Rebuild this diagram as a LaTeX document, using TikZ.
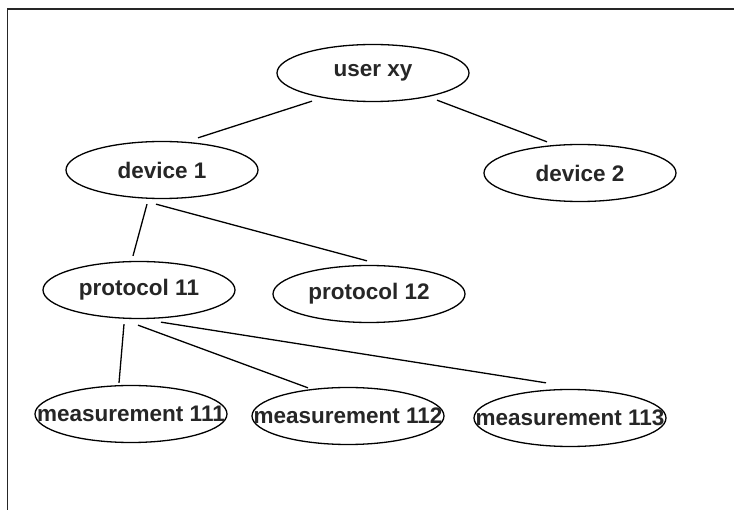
\documentclass[tikz,border=0pt]{standalone}
\usepackage{fontspec}
\setmainfont{Liberation Sans}
\usetikzlibrary{shapes.geometric,calc}
\newcommand{\ovaltext}[1]{\makebox[0pt]{#1}}
\tikzset{
  oval/.style={draw=black, line width=1.3pt, ellipse, minimum width=192pt, minimum height=57pt, inner sep=0pt,
    font=\fontsize{22.5}{25}\selectfont\bfseries, text=black!85},
  link/.style={draw=black, line width=1.3pt},
  frame/.style={draw=black!85, line width=1.8pt}
}
\begin{document}
\begin{tikzpicture}[x=1pt,y=-1pt]
\useasboundingbox (0,0) rectangle (734,510);
\coordinate (fr1) at (7.5,510);
\coordinate (fr2) at (7.5,9);
\coordinate (fr3) at (734,9);
\draw[frame] (fr1) -- (fr2) -- (fr3);

\node[oval] (user) at (373,73) {\ovaltext{user xy}};
\node[oval] (dev1) at (162,170) {\ovaltext{device 1}};
\node[oval] (dev2) at (580,173) {\ovaltext{device 2}};
\node[oval] (p11) at (139,290) {\ovaltext{protocol 11}};
\node[oval] (p12) at (369,294) {\ovaltext{protocol 12}};
\node[oval] (m111) at (131,414) {\ovaltext{measurement 111}};
\node[oval] (m112) at (348,416) {\ovaltext{measurement 112}};
\node[oval] (m113) at (570,418) {\ovaltext{measurement 113}};

\draw[link] ($(user.south)+(-61,-1)$) -- ($(dev1.north)+(36,-3)$);
\draw[link] ($(user.south)+(64,-2)$) -- ($(dev2.north)+(-33,-2)$);
\draw[link] ($(dev1.south)+(-15,5)$) -- ($(p11.north)+(-6,-5)$);
\draw[link] ($(dev1.south)+(-6,5)$) -- ($(p12.north)+(-2,-4)$);
\draw[link] ($(p11.south)+(-15,5)$) -- ($(m111.north)+(-12,-2)$);
\draw[link] ($(p11.south)+(-1,6)$) -- ($(m112.north)+(-40,1)$);
\draw[link] ($(p11.south)+(22,3)$) -- ($(m113.north)+(-24,-6)$);
\end{tikzpicture}
\end{document}
